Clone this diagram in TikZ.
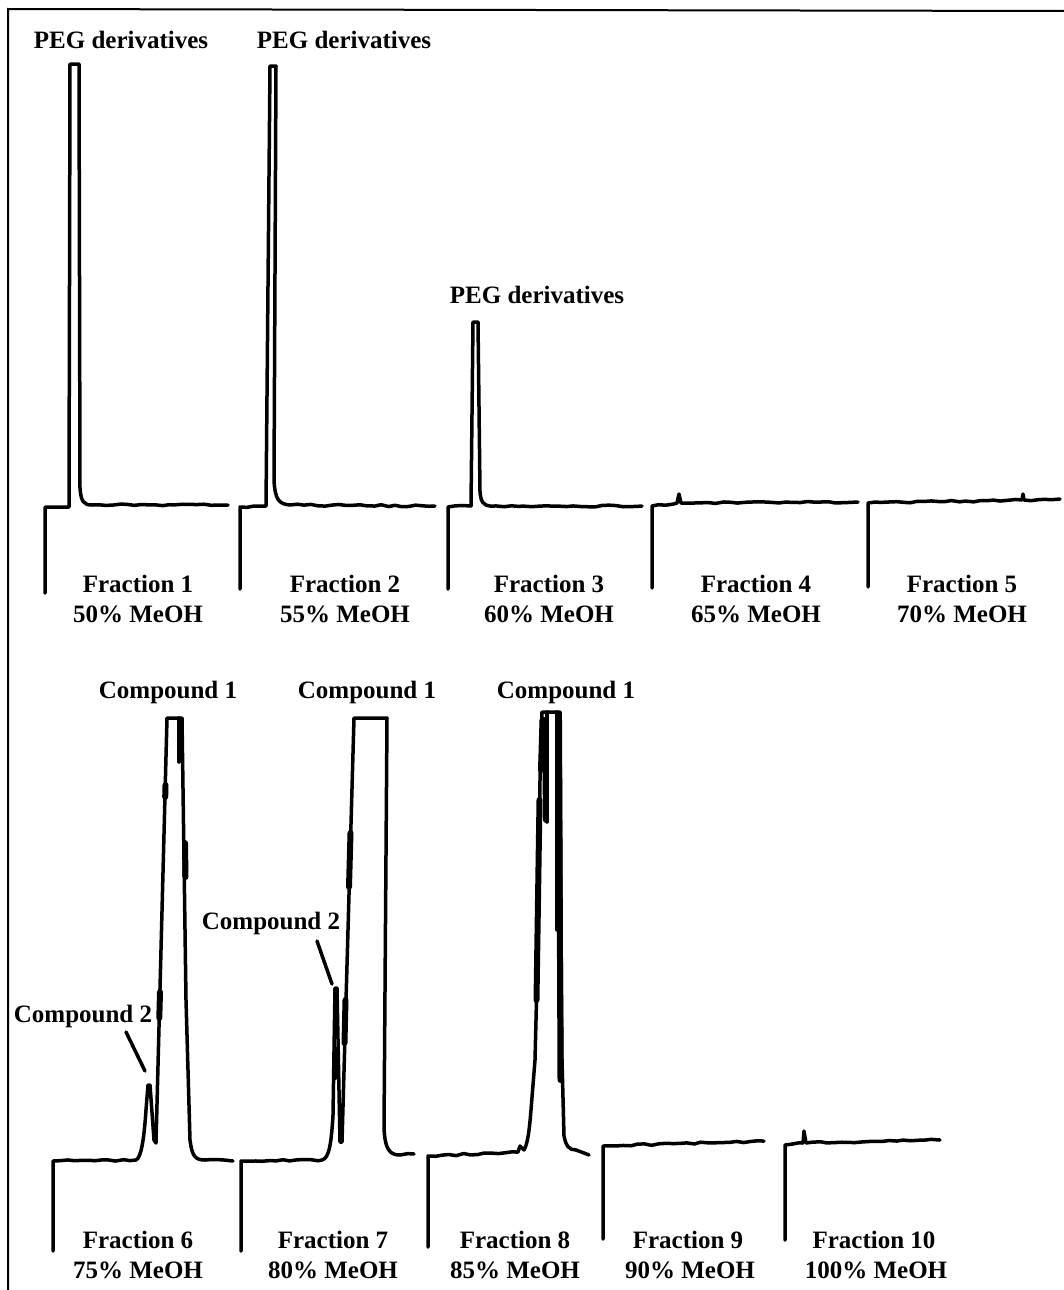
\documentclass[tikz,border=0pt]{standalone}
\usepackage{fontspec}
\setmainfont{Liberation Serif}
\usetikzlibrary{decorations.pathmorphing}
\begin{document}
\begin{tikzpicture}[x=0.5pt,y=-0.5pt,
  trace/.style={line width=1.75pt, line join=round, line cap=round},
  blob/.style={line width=3pt, line cap=round},
  frame/.style={line width=1pt},
  lbl/.style={font=\fontsize{12.5}{15}\selectfont\bfseries, inner sep=0pt, anchor=center},
  noisy/.style={decoration={random steps, segment length=3.5pt, amplitude=0.45pt}}]
\pgfmathsetseed{7}
\useasboundingbox (0,0) rectangle (1064,1290);
\fill[white] (0,0) rectangle (1064,1290);
% frame
\draw[frame] (8,1290) -- (8,9) -- (1064,11);

% ---------- top row ----------
% Fraction 1
\draw[trace] (45,593) -- (45,507) -- (69,507) -- (70,64) -- (79,64) -- (80,488) .. controls (81,502) and (84,505) .. (92,505) decorate[noisy]{-- (228,505)};
% Fraction 2
\draw[trace] (240,589) -- (240,507) decorate[noisy]{-- (264,506)} -- (266,506) -- (270,66) -- (276,66) -- (274,480) .. controls (275,500) and (279,504) .. (290,505) decorate[noisy]{-- (435,506)};
% Fraction 3
\draw[trace] (448,589) -- (448,507) decorate[noisy]{-- (471,506)} -- (473,322) -- (478,322) -- (480,492) .. controls (481,502) and (483,505) .. (490,506) decorate[noisy]{-- (642,506)};
% Fraction 4
\draw[trace] (652,588) -- (652,506) decorate[noisy]{-- (677,503)} -- (679,494) -- (681,503) decorate[noisy]{-- (858,502)};
% Fraction 5
\draw[trace] (868,587) -- (868,503) decorate[noisy]{-- (1022,500)} -- (1023,494) -- (1024,500) decorate[noisy]{-- (1060,499)};

\node[lbl] (peg1) at (121,40) {PEG derivatives};
\node[lbl] (peg2) at (344,40) {PEG derivatives};
\node[lbl] (peg3) at (537,295) {PEG derivatives};

\node[lbl] (f1a) at (138,584) {Fraction 1};
\node[lbl] (f1b) at (138,614) {50\% MeOH};
\node[lbl] (f2a) at (345,584) {Fraction 2};
\node[lbl] (f2b) at (345,614) {55\% MeOH};
\node[lbl] (f3a) at (549,584) {Fraction 3};
\node[lbl] (f3b) at (549,614) {60\% MeOH};
\node[lbl] (f4a) at (756,584) {Fraction 4};
\node[lbl] (f4b) at (756,614) {65\% MeOH};
\node[lbl] (f5a) at (962,584) {Fraction 5};
\node[lbl] (f5b) at (962,614) {70\% MeOH};

% ---------- bottom row ----------
% Fraction 6
\draw[trace] (53,1251) -- (53,1161) decorate[noisy]{-- (136,1160)} .. controls (141,1158) and (144,1140) .. (146,1110) -- (148,1085) -- (150,1085) -- (154,1140) -- (156,1143) -- (167,718) -- (182,718) -- (186,1000) -- (190,1140) .. controls (192,1156) and (195,1160) .. (205,1160) decorate[noisy]{-- (233,1161)};
\draw[trace] (179,718) -- (179,762);
\draw[blob] (159.3,1018) -- (160,992);
\draw[blob] (165.2,797) -- (165.5,785);
\draw[blob] (185,843) -- (185.5,877);
% Fraction 7
\draw[trace] (241,1251) -- (241,1161) decorate[noisy]{-- (322,1160)} .. controls (328,1158) and (331,1150) .. (333,1115) -- (335,988) -- (337,988) -- (340,1142) -- (342,1142) -- (354,718) -- (387,718) -- (384,1128) .. controls (385,1150) and (390,1155) .. (400,1155) decorate[noisy]{-- (414,1154)};
\draw[blob] (349,887) -- (350.5,833);
\draw[blob] (344.5,1043) -- (345.5,1000);
\draw[blob] (335,1077) -- (336,1050);
% Fraction 8
\draw[trace] (428,1247) -- (428,1156) decorate[noisy]{-- (518,1152)} -- (520,1146) -- (524,1150) .. controls (527,1145) and (529,1135) .. (531,1110) -- (535,1060) -- (538,940) -- (540,780) -- (542,712) -- (560,712) -- (561,932) -- (562,1060) -- (564,1136) .. controls (566,1146) and (569,1150) .. (576,1150) decorate[noisy]{-- (589,1155)};
\draw[trace] (547,712) -- (547,822);
\draw[trace] (557,712) -- (557,930);
\draw[blob] (536.5,1000) -- (539.5,800);
\draw[blob] (541,770) -- (542.5,720);
\draw[blob] (545,720) -- (546,820);
\draw[blob] (559,720) -- (560.5,1080);
% Fraction 9
\draw[trace] (603,1239) -- (603,1146) decorate[noisy]{-- (764,1141)};
% Fraction 10
\draw[trace] (785,1240) -- (785,1145) decorate[noisy]{-- (803,1143)} -- (804,1131) -- (806,1143) decorate[noisy]{-- (940,1140)};

\node[lbl] (c1a) at (168,692) {Compound 1};
\node[lbl] (c1b) at (367,692) {Compound 1};
\node[lbl] (c1c) at (566,692) {Compound 1};
\node[lbl] (c2a) at (83,1016) {Compound 2};
\node[lbl] (c2b) at (271,923) {Compound 2};
\coordinate (c2aS) at (126,1032);
\coordinate (c2aE) at (145,1071);
\coordinate (c2bS) at (317,941);
\coordinate (c2bE) at (332,984);
\draw[trace] (c2aS) -- (c2aE);
\draw[trace] (c2bS) -- (c2bE);

\node[lbl] (f6a) at (138,1240) {Fraction 6};
\node[lbl] (f6b) at (138,1270) {75\% MeOH};
\node[lbl] (f7a) at (333,1240) {Fraction 7};
\node[lbl] (f7b) at (333,1270) {80\% MeOH};
\node[lbl] (f8a) at (515,1240) {Fraction 8};
\node[lbl] (f8b) at (515,1270) {85\% MeOH};
\node[lbl] (f9a) at (688,1240) {Fraction 9};
\node[lbl] (f9b) at (690,1270) {90\% MeOH};
\node[lbl] (f10a) at (874,1240) {Fraction 10};
\node[lbl] (f10b) at (876,1270) {100\% MeOH};
\end{tikzpicture}
\end{document}
